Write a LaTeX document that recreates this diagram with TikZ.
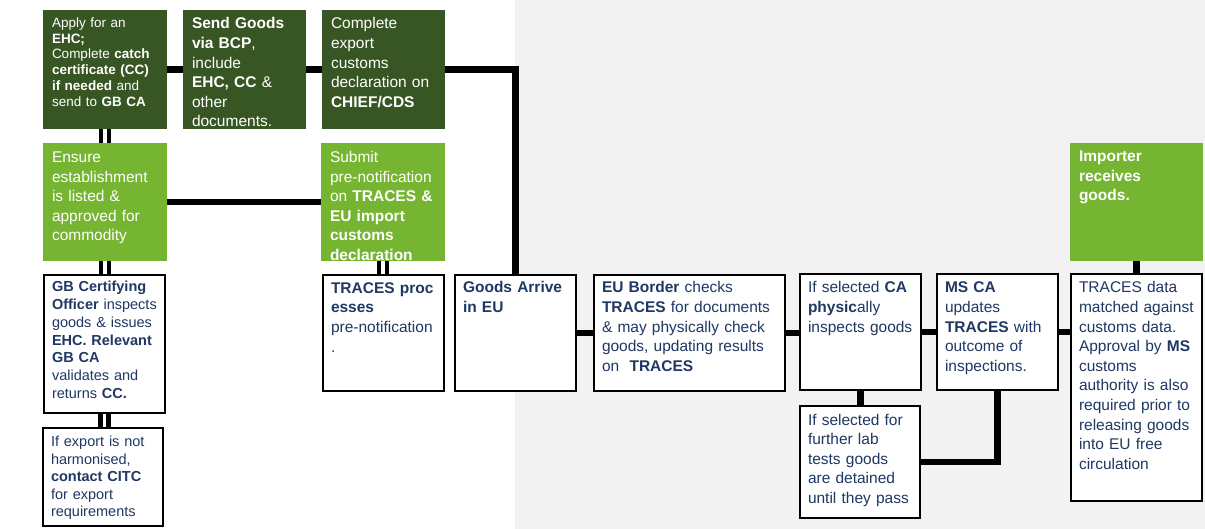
\documentclass[tikz,border=0pt]{standalone}
\usepackage{fontspec}
\setmainfont{Liberation Sans}
\definecolor{dkgreen}{RGB}{55,86,35}
\definecolor{ltgreen}{RGB}{118,181,49}
\definecolor{navy}{RGB}{31,56,100}
\definecolor{bggray}{RGB}{242,242,242}
\pgfdeclarelayer{background}
\pgfsetlayers{background,main}
\tikzset{
  boxbase/.style={anchor=north west, inner sep=0pt, outer sep=0pt},
  dkbox/.style={boxbase, fill=dkgreen},
  ltbox/.style={boxbase, fill=ltgreen},
  wbox/.style={boxbase, fill=white, draw=black, line width=2.5pt},
  txtbase/.style={anchor=base west, inner sep=0pt, outer sep=0pt, align=left, text width=#1},
  wtxt/.style={txtbase=#1, text=white, font=\fontsize{15.5}{19.6}\selectfont},
  ntxt/.style={txtbase=#1, text=navy, font=\fontsize{15.5}{19.6}\selectfont},
  conn/.style={line width=6.5pt, draw=black},
  dconn/.style={draw=black, line width=4.5pt, double=white, double distance=3.3pt},
}
\begin{document}
\begin{tikzpicture}[x=1pt, y=-1pt]
\useasboundingbox (0,0) rectangle (1205,529);
\begin{pgfonlayer}{background}
  \fill[bggray] (515,0) rectangle (1205,529);
\end{pgfonlayer}

% top row dark green
\node[dkbox, minimum width=124, minimum height=119] (a) at (43,10) {};
\node[txtbase=114, text=white, font=\fontsize{13.5}{15.8}\selectfont] (ta) at ([shift={(9,17.3)}]a.north west)
  {Apply for an\\\textbf{EHC;}\\Complete \textbf{catch}\\\textbf{certificate (CC)}\\\textbf{if needed} and\\send to \textbf{GB CA}};
\node[dkbox, minimum width=123, minimum height=119] (b) at (183,10) {};
\node[wtxt=113] (tb) at ([shift={(9,19)}]b.north west)
  {\textbf{Send Goods}\\\textbf{via BCP},\\include\\\textbf{EHC, CC} \&\\other\\documents.};
\node[dkbox, minimum width=123, minimum height=119] (c) at (322,10) {};
\node[wtxt=113] (tc) at ([shift={(9,19)}]c.north west)
  {Complete\\export\\customs\\declaration on\\\textbf{CHIEF/CDS}};

% second row light green
\node[ltbox, minimum width=124, minimum height=118] (d) at (43,143) {};
\node[wtxt=114] (td) at ([shift={(9,19.5)}]d.north west)
  {Ensure\\establishment\\is listed \&\\approved for\\commodity};
\node[ltbox, minimum width=124, minimum height=118] (e) at (321,143) {};
\node[wtxt=114] (te) at ([shift={(9,19.5)}]e.north west)
  {Submit\\pre-notification\\on \textbf{TRACES \&}\\\textbf{EU import}\\\textbf{customs}\\\textbf{declaration}};
\node[ltbox, minimum width=133, minimum height=118] (n) at (1070,143) {};
\node[wtxt=123] (tn) at ([shift={(9,18.7)}]n.north west)
  {\textbf{Importer}\\\textbf{receives}\\\textbf{goods.}};

% white boxes
\node[wbox, minimum width=121, minimum height=138] (f) at (44,275) {};
\node[txtbase=112, text=navy, font=\fontsize{14.5}{17.8}\selectfont] (tf) at ([shift={(8,16.7)}]f.north west)
  {\textbf{GB Certifying}\\\textbf{Officer} inspects\\goods \& issues\\\textbf{EHC. Relevant}\\\textbf{GB CA}\\validates and\\returns \textbf{CC.}};
\node[wbox, minimum width=120, minimum height=98] (g) at (43,428) {};
\node[txtbase=112, text=navy, font=\fontsize{14.5}{17.5}\selectfont] (tg) at ([shift={(8,18.7)}]g.north west)
  {If export is not\\harmonised,\\\textbf{contact CITC}\\for export\\requirements};
\node[wbox, minimum width=121, minimum height=116] (h) at (323,275) {};
\node[ntxt=112] (th) at ([shift={(8,18.3)}]h.north west)
  {\textbf{TRACES proc}\\\textbf{esses}\\pre-notification\\.};
\node[wbox, minimum width=121, minimum height=116] (i) at (455,275) {};
\node[ntxt=112] (ti) at ([shift={(8,18)}]i.north west)
  {\textbf{Goods Arrive}\\\textbf{in EU}};
\node[wbox, minimum width=191, minimum height=116] (j) at (594,275) {};
\node[ntxt=182] (tj) at ([shift={(8,18)}]j.north west)
  {\textbf{EU Border} checks\\\textbf{TRACES} for documents\\\& may physically check\\goods, updating results\\on\ \ \textbf{TRACES}};
\node[wbox, minimum width=121, minimum height=116] (k) at (800,274) {};
\node[ntxt=112] (tk) at ([shift={(8,19)}]k.north west)
  {If selected \textbf{CA}\\\textbf{physic}ally\\inspects goods};
\node[wbox, minimum width=121, minimum height=116] (l) at (937,274) {};
\node[ntxt=112] (tl) at ([shift={(8,19)}]l.north west)
  {\textbf{MS CA}\\updates\\\textbf{TRACES} with\\outcome of\\inspections.};
\node[wbox, minimum width=131, minimum height=227] (m) at (1071,274) {};
\node[ntxt=122] (tm) at ([shift={(8,19)}]m.north west)
  {TRACES data\\matched against\\customs data.\\Approval by \textbf{MS}\\customs\\authority is also\\required prior to\\releasing goods\\into EU free\\circulation};
\node[wbox, minimum width=120, minimum height=112] (o) at (800,406) {};
\node[ntxt=112] (to) at ([shift={(8,19)}]o.north west)
  {If selected for\\further lab\\tests goods\\are detained\\until they pass};

% connectors
\begin{pgfonlayer}{background}
  \draw[conn] (a.east) -- (b.west);
  \draw[conn] (b.east) -- (c.west);
  \draw[conn] (c.east) -| (i.north);
  \draw[conn] (d.east) -- (e.west);
  \draw[dconn] (a.south) -- (d.north);
  \draw[dconn] (d.south) -- (d.south |- f.north);
  \draw[dconn] (f.south) -- (f.south |- g.north);
  \draw[dconn] (e.south) -- (e.south |- h.north);
  \draw[conn] (i.east) -- (i.east -| j.west);
  \draw[conn] (j.east) -- (j.east -| k.west);
  \draw[conn] (k.east) -- (k.east -| l.west);
  \draw[conn] (l.east) -- (l.east -| m.west);
  \draw[conn] (k.south) -- (k.south |- o.north);
  \draw[conn] (l.south) |- (o.east);
  \draw[conn] (n.south) -- (n.south |- m.north);
\end{pgfonlayer}
\end{tikzpicture}
\end{document}
